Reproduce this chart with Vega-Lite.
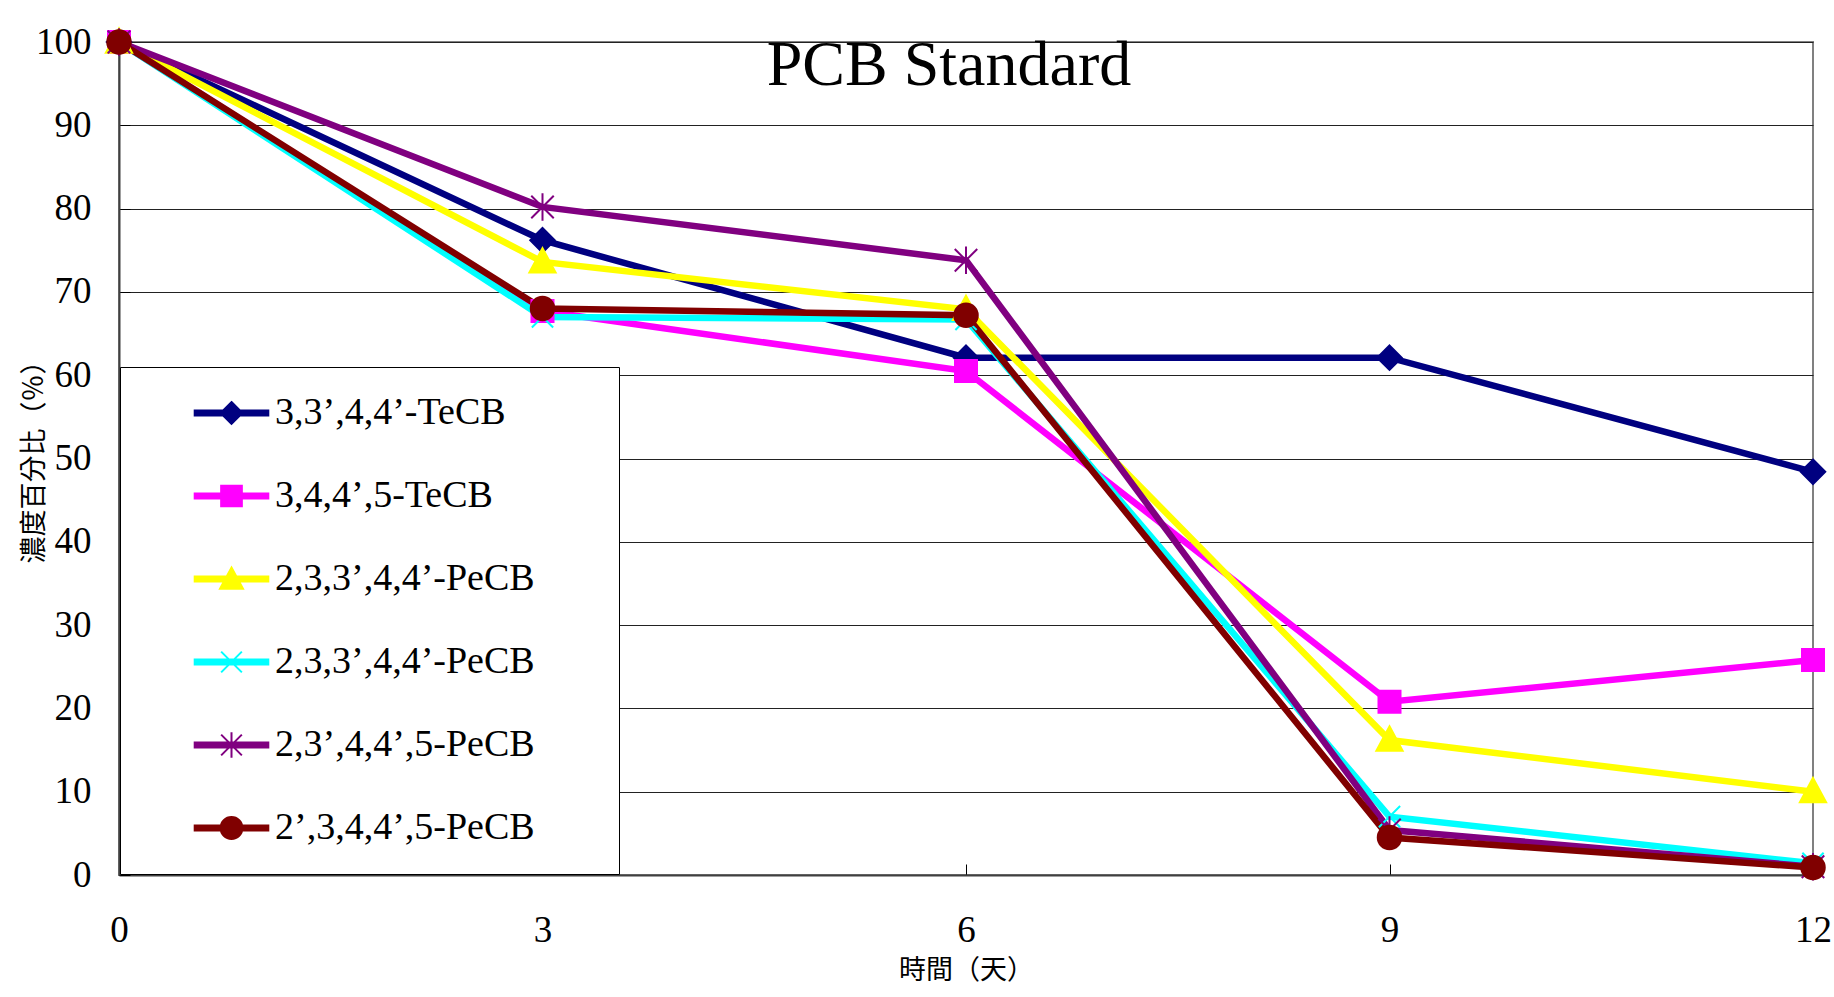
{
  "$schema": "https://vega.github.io/schema/vega-lite/v6.json",
  "width": 1694,
  "height": 833,
  "autosize": {"type": "none"},
  "padding": {"left": 119, "top": 42, "right": 21, "bottom": 122},
  "background": "white",
  "title": {"text": "PCB Standard", "font": "Liberation Serif", "fontSize": 64, "fontWeight": "normal", "color": "#000000", "anchor": "middle", "baseline": "alphabetic", "offset": 0, "dx": -17, "dy": 126},
  "data": {"values": [
    {"id": "1", "mk": "a", "day": 0, "value": 100}, {"id": "1", "mk": "a", "day": 3, "value": 76.2}, {"id": "1", "mk": "a", "day": 6, "value": 62.1}, {"id": "1", "mk": "a", "day": 9, "value": 62.1}, {"id": "1", "mk": "a", "day": 12, "value": 48.4},
    {"id": "2", "mk": "b", "day": 0, "value": 100}, {"id": "2", "mk": "b", "day": 3, "value": 67.7}, {"id": "2", "mk": "b", "day": 6, "value": 60.5}, {"id": "2", "mk": "b", "day": 9, "value": 20.8}, {"id": "2", "mk": "b", "day": 12, "value": 25.8},
    {"id": "3", "mk": "c", "day": 0, "value": 100}, {"id": "3", "mk": "c", "day": 3, "value": 73.6}, {"id": "3", "mk": "c", "day": 6, "value": 67.9}, {"id": "3", "mk": "c", "day": 9, "value": 16.2}, {"id": "3", "mk": "c", "day": 12, "value": 10.0},
    {"id": "4", "mk": "d", "day": 0, "value": 100}, {"id": "4", "mk": "d", "day": 3, "value": 67.0}, {"id": "4", "mk": "d", "day": 6, "value": 66.7}, {"id": "4", "mk": "d", "day": 9, "value": 7.0}, {"id": "4", "mk": "d", "day": 12, "value": 1.4},
    {"id": "5", "mk": "e", "day": 0, "value": 100}, {"id": "5", "mk": "e", "day": 3, "value": 80.2}, {"id": "5", "mk": "e", "day": 6, "value": 73.8}, {"id": "5", "mk": "e", "day": 9, "value": 5.4}, {"id": "5", "mk": "e", "day": 12, "value": 1.0},
    {"id": "6", "mk": "f", "day": 0, "value": 100}, {"id": "6", "mk": "f", "day": 3, "value": 68.0}, {"id": "6", "mk": "f", "day": 6, "value": 67.2}, {"id": "6", "mk": "f", "day": 9, "value": 4.5}, {"id": "6", "mk": "f", "day": 12, "value": 0.9}
  ]},
  "encoding": {
    "x": {"field": "day", "type": "quantitative", "scale": {"domain": [0, 12], "nice": false, "zero": false},
      "axis": {"values": [0, 3, 6, 9, 12], "title": "時間（天）", "grid": false, "tickSize": -11, "tickColor": "#000000", "tickWidth": 1,
        "labelPadding": 48, "labelFont": "Liberation Serif", "labelFontSize": 37, "labelColor": "#000000", "labelFlush": false, "labelOverlap": false,
        "domainColor": "#404040", "domainWidth": 2,
        "titleFont": "Noto Sans CJK TC", "titleFontSize": 27, "titleFontWeight": "normal", "titleColor": "#000000", "titleY": 95, "titleBaseline": "middle"}},
    "y": {"field": "value", "type": "quantitative", "scale": {"domain": [0, 100], "nice": false},
      "axis": {"values": [0, 10, 20, 30, 40, 50, 60, 70, 80, 90, 100], "title": "濃度百分比（％）", "grid": true, "gridColor": "#222222", "gridWidth": 1, "gridOpacity": 1,
        "tickSize": -11, "tickColor": "#000000", "tickWidth": 1,
        "labelPadding": 39, "labelFont": "Liberation Serif", "labelFontSize": 37, "labelColor": "#000000", "labelFlush": false, "labelOverlap": false,
        "domainColor": "#404040", "domainWidth": 2,
        "titleFont": "Noto Sans CJK TC", "titleFontSize": 27, "titleFontWeight": "normal", "titleColor": "#000000",
        "titleX": -84.5, "titleY": 413, "titleAngle": 270, "titleBaseline": "middle", "titleAlign": "center"}},
    "color": {"field": "id", "type": "nominal",
      "scale": {"domain": ["1", "2", "3", "4", "5", "6"], "range": ["#000080", "#FF00FF", "#FFFF00", "#00FFFF", "#800080", "#800000"]},
      "legend": {"orient": "none", "legendX": 1, "legendY": 325, "title": null, "padding": 27, "rowPadding": 45,
        "symbolOffset": 65.5, "labelOffset": 24.5, "symbolSize": 529, "symbolStrokeWidth": 2,
        "labelFont": "Liberation Serif", "labelFontSize": 38, "labelColor": "#000000", "labelLimit": 1000,
        "labelExpr": "['3,3’,4,4’-TeCB','3,4,4’,5-TeCB','2,3,3’,4,4’-PeCB','2,3,3’,4,4’-PeCB','2,3’,4,4’,5-PeCB','2’,3,4,4’,5-PeCB'][toNumber(datum.value)-1] + '\u00a0\u00a0\u00a0\u00a0\u00a0\u00a0\u200b'",
        "fillColor": "#ffffff", "strokeColor": "#000000",
        "encoding": {"symbols": {
          "shape": {"value": {"expr": "['M-3.2,-0.22H3.2V0.22H-3.2Z M0,-0.95L0.95,0L0,0.95L-0.95,0Z','M-3.2,-0.22H3.2V0.22H-3.2Z M-0.9,-0.9H0.9V0.9H-0.9Z','M-3.2,-0.22H3.2V0.22H-3.2Z M0,-1L1,0.85H-1Z','M-3.2,-0.22H3.2V0.22H-3.2Z M-0.9,-0.9L0.9,0.9M-0.9,0.9L0.9,-0.9','M-3.2,-0.22H3.2V0.22H-3.2Z M-0.9,-0.9L0.9,0.9M-0.9,0.9L0.9,-0.9M0,-1.1V1.1','M-3.2,-0.22H3.2V0.22H-3.2Z M-0.95,0A0.95,0.95 0 1,1 0.95,0A0.95,0.95 0 1,1 -0.95,0Z'][toNumber(datum.value)-1]"}},
          "fill": {"value": {"expr": "['#000080','#FF00FF','#FFFF00','#00FFFF','#800080','#800000'][toNumber(datum.value)-1]"}},
          "stroke": {"value": {"expr": "['#000080','#FF00FF','#FFFF00','#00FFFF','#800080','#800000'][toNumber(datum.value)-1]"}},
          "strokeWidth": {"value": 2},
          "opacity": {"value": 1}
        }}}}
  },
  "layer": [
    {"mark": {"type": "line", "strokeWidth": 6.5}},
    {"mark": {"type": "point", "filled": true, "opacity": 1, "strokeWidth": 2, "size": 625},
      "encoding": {
        "shape": {"field": "mk", "type": "nominal", "legend": null,
          "scale": {"domain": ["a", "b", "c", "d", "e", "f"], "range": [
            "M0,-0.98L0.98,0L0,0.98L-0.98,0Z",
            "M-0.88,-0.88H0.88V0.88H-0.88Z",
            "M0,-1.1L1.05,0.85H-1.05Z",
            "M-0.85,-0.85L0.85,0.85M-0.85,0.85L0.85,-0.85",
            "M-0.9,-0.9L0.9,0.9M-0.9,0.9L0.9,-0.9M0,-1.1V1.1",
            "M-0.94,0A0.94,0.94 0 1,1 0.94,0A0.94,0.94 0 1,1 -0.94,0Z"]}},
        "stroke": {"field": "mk", "type": "nominal", "legend": null,
          "scale": {"domain": ["a", "b", "c", "d", "e", "f"], "range": ["#000080", "#FF00FF", "#FFFF00", "#00FFFF", "#800080", "#800000"]}}
      }}
  ],
  "config": {
    "font": "Liberation Serif",
    "view": {"stroke": "#808080", "strokeWidth": 2}
  }
}
